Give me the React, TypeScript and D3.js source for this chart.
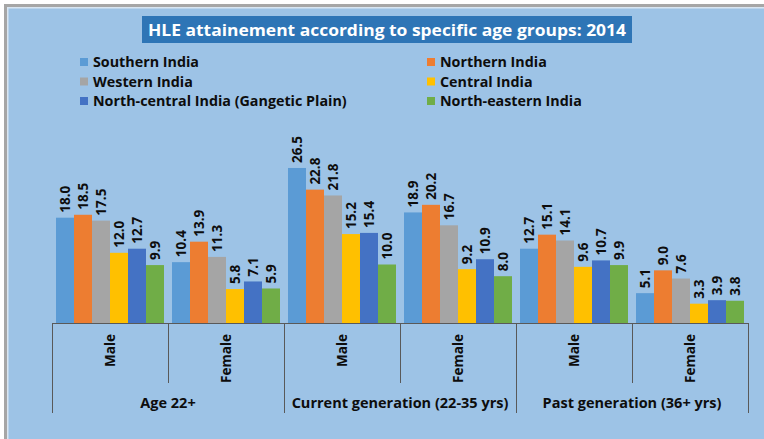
import React from 'react';
import * as d3 from 'd3';

const regions = [
    "Southern India",
    "Northern India",
    "Western India",
    "Central India",
    "North-central India (Gangetic Plain)",
    "North-eastern India",
];
const colors = ["#5B9BD5", "#ED7D31", "#A5A5A5", "#FFC000", "#4472C4", "#70AD47"];

const groups = ["Age 22+", "Current generation (22-35 yrs)", "Past generation (36+ yrs)"];
const sexes = ["Male", "Female"];

// one array per region, in the order: group x sex
const southern = [18.0, 10.4, 26.5, 18.9, 12.7, 5.1];
const northern = [18.5, 13.9, 22.8, 20.2, 15.1, 9.0];
const western = [17.5, 11.3, 21.8, 16.7, 14.1, 7.6];
const central = [12.0, 5.8, 15.2, 9.2, 9.6, 3.3];
const northCentral = [12.7, 7.1, 15.4, 10.9, 10.7, 3.9];
const northEastern = [9.9, 5.9, 10.0, 8.0, 9.9, 3.8];

const series = [southern, northern, western, central, northCentral, northEastern];

const title = "HLE attainement according to specific age groups: 2014";

const W = 764;
const H = 439;
const font = "'Open Sans', sans-serif";

export default function App() {
    // categories: one per group x sex
    const cats = groups.flatMap(g => sexes.map(s => `${g}|${s}`));

    const x0 = d3.scaleBand<string>()
        .domain(cats)
        .range([52, 748])
        .paddingInner(0.069)
        .paddingOuter(0.0345);

    const x1 = d3.scaleBand<string>()
        .domain(regions)
        .range([0, x0.bandwidth()]);

    const y = d3.scaleLinear()
        .domain([0, 30])
        .range([323, 323 - 30 * 5.85]);

    const step = (748 - 52) / cats.length;
    const groupStep = step * sexes.length;

    return (
        <svg width={W} height={H} style={{position: "absolute", left: 0, top: 0}} fontFamily={font}>
            <rect x={0} y={0} width={W} height={H} fill="#ffffff"/>
            <rect x={4} y={4} width={W} height={H} fill="#a6a6a6"/>
            <rect x={7} y={7} width={W} height={H} fill="#d9e6f2"/>
            <rect x={8.5} y={8.5} width={W} height={H} fill="#9DC3E6"/>

            {/* title */}
            <rect x={142} y={16} width={490} height={27} fill="#2E75B6"/>
            <text x={387} y={35.5} textAnchor="middle" fill="#fff" fontWeight="bold" fontSize={15.5}
                  textLength={478} lengthAdjust="spacingAndGlyphs">{title}</text>

            {/* legend */}
            {regions.map((r, i) => {
                const col = i % 2;
                const row = Math.floor(i / 2);
                const lx = col === 0 ? 80 : 427;
                const ly = 62 + row * 19.5;
                return (
                    <g key={r}>
                        <rect x={lx} y={ly - 4} width={8} height={8} fill={colors[i]}/>
                        <text x={lx + 13} y={ly + 5} fontSize={14.3} fontWeight="bold" fill="#0d0d0d">{r}</text>
                    </g>
                );
            })}

            {/* bars */}
            {series.map((vals, si) => (
                <g key={regions[si]}>
                    {vals.map((v, ci) => {
                        const bx = x0(cats[ci])! + x1(regions[si])!;
                        const bw = x1.bandwidth();
                        const top = y(v);
                        return (
                            <g key={ci}>
                                <rect x={bx} y={top} width={bw} height={y(0) - top} fill={colors[si]}/>
                                <text transform={`translate(${bx + bw / 2 + 5},${top - 5}) rotate(-90)`}
                                      fontSize={13.5} fontWeight="bold" fill="#0d0d0d">{v.toFixed(1)}</text>
                            </g>
                        );
                    })}
                </g>
            ))}

            {/* multi-level category axis */}
            <g stroke="#595959" strokeWidth={1} fill="none">
                <line x1={52} x2={748} y1={323.5} y2={323.5}/>
                {d3.range(cats.length + 1).map(i => {
                    const xx = Math.round(52 + i * step) + 0.5;
                    const long = i % sexes.length === 0;
                    return <line key={i} x1={xx} x2={xx} y1={323} y2={long ? 413 : 383}/>;
                })}
            </g>
            {cats.map((c, i) => {
                const cx = 52 + (i + 0.5) * step;
                return (
                    <text key={c} transform={`translate(${cx + 5},334) rotate(-90)`} textAnchor="end"
                          fontSize={13.5} fontWeight="bold" fill="#0d0d0d">{c.split("|")[1]}</text>
                );
            })}
            {groups.map((g, i) => (
                <text key={g} x={52 + (i + 0.5) * groupStep} y={408} textAnchor="middle"
                      fontSize={14.5} fontWeight="bold" fill="#0d0d0d">{g}</text>
            ))}
        </svg>
    );
}
